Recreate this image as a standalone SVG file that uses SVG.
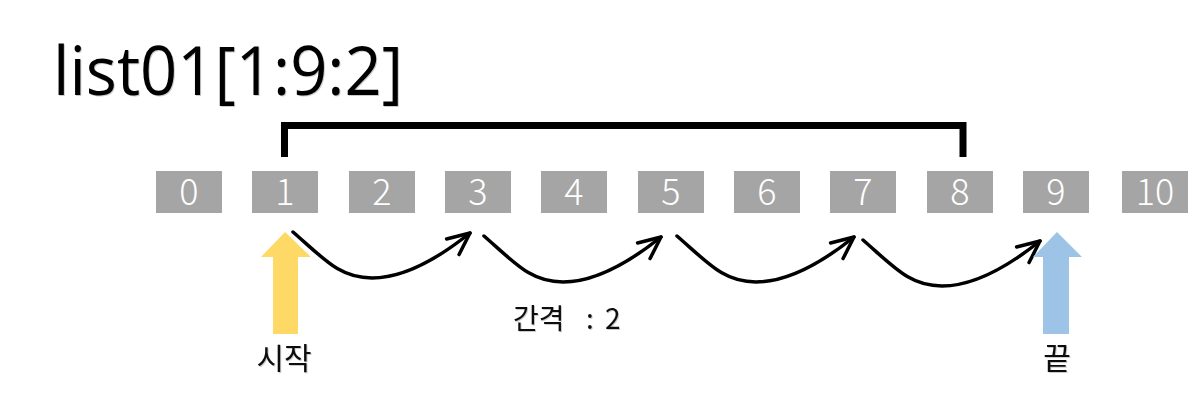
<svg xmlns="http://www.w3.org/2000/svg" width="1198" height="400" viewBox="0 0 1198 400">
<defs>
<style>
.box rect{fill:#A5A5A5}
.box text{fill:#fff;font-family:"Noto Sans CJK KR","Noto Sans",sans-serif;font-weight:300;font-size:36px;text-anchor:middle}
.lbl{font-family:"Noto Sans CJK KR","Noto Sans",sans-serif;font-weight:400;fill:#111;filter:url(#sh)}
.ttl{font-family:"Open Sans","Noto Sans",sans-serif;fill:#000;filter:url(#sh)}
.curve{fill:none;stroke:#000;stroke-width:3.5;stroke-linecap:round;marker-end:url(#chev)}
</style>
<filter id="sh" x="-10%" y="-10%" width="130%" height="140%">
<feDropShadow dx="1" dy="1" stdDeviation="0.6" flood-color="#000" flood-opacity="0.2"/>
</filter>
<marker id="chev" markerUnits="userSpaceOnUse" viewBox="-26 -13 30 26" markerWidth="30" markerHeight="26" refX="0" refY="0" orient="auto">
<path d="M-22,-10 L0,0 L-22,10" fill="none" stroke="#000" stroke-width="3.5" stroke-linecap="round" stroke-linejoin="round"/>
</marker>
<path id="hop" d="M0,0 C32,28 47,46 79,46 C112,46 147,25 177,1"/>
</defs>
<rect width="1198" height="400" fill="#fff"/>
<g id="title">
<text class="ttl" x="53" y="95" font-size="68" textLength="350" lengthAdjust="spacingAndGlyphs">list01[1:9:2]</text>
</g>
<g id="bracket">
<path d="M284.5,157 V125.5 H963 V157" fill="none" stroke="#000" stroke-width="7"/>
</g>
<g id="n0" class="box"><rect x="156" y="171" width="66" height="42"/><text x="189" y="205">0</text></g>
<g id="n1" class="box"><rect x="252" y="171" width="66" height="42"/><text x="285" y="205">1</text></g>
<g id="n2" class="box"><rect x="349" y="171" width="66" height="42"/><text x="382" y="205">2</text></g>
<g id="n3" class="box"><rect x="445" y="171" width="66" height="42"/><text x="478" y="205">3</text></g>
<g id="n4" class="box"><rect x="541" y="171" width="66" height="42"/><text x="574" y="205">4</text></g>
<g id="n5" class="box"><rect x="638" y="171" width="66" height="42"/><text x="671" y="205">5</text></g>
<g id="n6" class="box"><rect x="734" y="171" width="66" height="42"/><text x="767" y="205">6</text></g>
<g id="n7" class="box"><rect x="830" y="171" width="66" height="42"/><text x="863" y="205">7</text></g>
<g id="n8" class="box"><rect x="927" y="171" width="66" height="42"/><text x="960" y="205">8</text></g>
<g id="n9" class="box"><rect x="1023" y="171" width="66" height="42"/><text x="1056" y="205">9</text></g>
<g id="n10" class="box"><rect x="1122" y="171" width="66" height="42"/><text x="1155" y="205">10</text></g>
<g id="connectors">
<use href="#hop" class="curve" transform="translate(293,232)"/>
<use href="#hop" class="curve" transform="translate(484,236)"/>
<use href="#hop" class="curve" transform="translate(677,236)"/>
<use href="#hop" class="curve" transform="translate(863,240)"/>
</g>
<g id="start">
<polygon points="285,232 311,257 298,257 298,334 273,334 273,257 261,257" fill="#FFD966"/>
<text class="lbl" x="284" y="369" font-size="30" text-anchor="middle">시작</text>
</g>
<g id="end">
<polygon points="1057,232 1082,257 1069,257 1069,334 1043,334 1043,257 1033,257" fill="#9DC3E6"/>
<text class="lbl" x="1057" y="369" font-size="30" text-anchor="middle">끝</text>
</g>
<g id="step">
<text class="lbl" y="329" font-size="28"><tspan x="513">간격 </tspan><tspan x="586">: </tspan><tspan x="605">2</tspan></text>
</g>
</svg>
